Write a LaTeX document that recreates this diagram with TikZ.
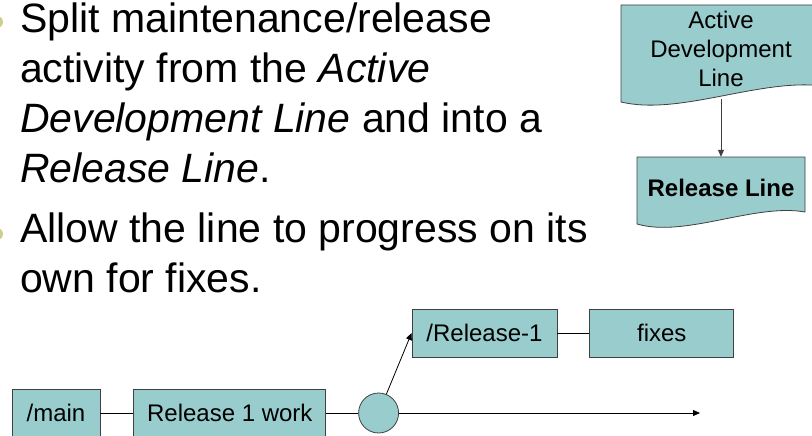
\documentclass[tikz,border=0pt]{standalone}
\usepackage{fontspec}
\setmainfont{Liberation Sans}
\usetikzlibrary{arrows.meta}
\usetikzlibrary{positioning}

\definecolor{linefill}{RGB}{153,204,204}
\definecolor{lineedge}{RGB}{64,64,64}
\definecolor{bulletolive}{RGB}{204,204,140}

\tikzset{
  bullettext/.style={anchor=base west, align=left, inner sep=0pt,
    font=\fontsize{41pt}{49.7pt}\selectfont},
  branchbox/.style={draw=lineedge, fill=linefill, line width=0.8pt,
    minimum height=48pt, inner sep=0pt, font=\fontsize{24pt}{29pt}\selectfont},
  branchpt/.style={circle, draw=lineedge, fill=linefill, line width=0.8pt,
    minimum size=40pt, inner sep=0pt},
  docshape/.style={draw=lineedge, fill=linefill, line width=0.8pt},
  doctext/.style={align=center, inner sep=0pt, font=\fontsize{24pt}{29pt}\selectfont},
  conn/.style={line width=0.8pt},
  tip/.tip={Triangle[length=7pt, width=6pt]},
}

\begin{document}
\begin{tikzpicture}[x=1pt, y=1pt]
\useasboundingbox (0,0) rectangle (812,-436); % fix the margins

% bullet points (base anchor = last line)
\fill [bulletolive] (-3,-22) circle (6pt);
\fill [bulletolive] (-3,-234) circle (6pt);
\node [bullettext] (splittext) at (20,-182)
  {Split maintenance/release\\
   activity from the \textit{Active}\\
   \textit{Development Line} and into a\\
   \textit{Release Line}.};
\node [bullettext] (allowtext) at (20,-292)
  {Allow the line to progress on its\\
   own for fixes.};

% the two lines, top right
\draw [docshape] (621,-5) -- (823,-5) -- (823,-86)
  .. controls (760,-78) and (680,-116) .. (621,-102) -- cycle;
\draw [docshape] (637,-157) -- (805,-157) -- (805,-212)
  .. controls (755,-203) and (685,-238) .. (637,-224) -- cycle;
\node [doctext, minimum height=100pt] (adl) at (721,-49) {Active\\Development\\Line};
\node [doctext, font=\fontsize{24pt}{29pt}\selectfont\bfseries, minimum height=62pt]
  (rl) at (721,-188) {Release Line};
\draw [conn, draw=lineedge, -tip] (adl.south) -- (rl.north);

% branching, bottom
\node [branchbox, minimum width=88pt] (main) at (56,-413) {/main};
\node [branchbox, minimum width=192pt, right=33pt of main] (relwork) {Release 1 work};
\node [branchpt, right=32pt of relwork] (fork) {};
\node [branchbox, minimum width=145pt] (rel1) at (484.5,-333) {/Release-1};
\node [branchbox, minimum width=144pt, right=32pt of rel1] (fixes) {fixes};
\coordinate (mainend) at (700,-413);

\draw [conn] (main) -- (relwork);
\draw [conn] (relwork) -- (fork);
\draw [conn, -tip] (fork) -- (mainend);
\draw [conn, -tip] (fork) -- (rel1.west);
\draw [conn] (rel1) -- (fixes);
\end{tikzpicture}
\end{document}
